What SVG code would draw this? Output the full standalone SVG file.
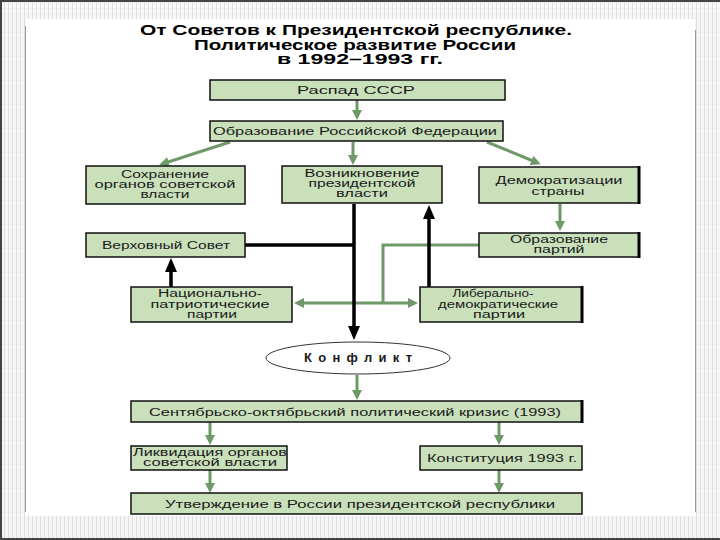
<svg xmlns="http://www.w3.org/2000/svg" width="720" height="540" viewBox="0 0 720 540">
<defs>
<pattern id="stripes" width="4" height="6" patternUnits="userSpaceOnUse">
<rect width="4" height="6" fill="#f7f7f7"/>
<rect x="0" width="1" height="6" fill="#dedede"/>
<rect x="2" y="2" width="1" height="1" fill="#e6e6e6"/>
</pattern>
<marker id="ga" viewBox="0 0 10 10" refX="7" refY="5" markerWidth="10" markerHeight="10" markerUnits="userSpaceOnUse" orient="auto-start-reverse">
<path d="M0,0 L10,5 L0,10 z" fill="#6f9968"/>
</marker>
<marker id="ba" viewBox="0 0 14 12" refX="10" refY="6" markerWidth="14" markerHeight="12" markerUnits="userSpaceOnUse" orient="auto">
<path d="M0,0 L14,6 L0,12 z" fill="#000"/>
</marker>
</defs>
<style>
.box{fill:#c9e0ba;stroke:#111;stroke-width:1.5}
.edge{stroke:#000;stroke-width:3}
.t{font-family:"Liberation Sans",Arial,sans-serif;font-size:11.5px;fill:#1a1a1a;text-anchor:middle}
.m{font-family:"Liberation Sans",Arial,sans-serif;font-size:10px;fill:#1a1a1a;text-anchor:middle}
.ttl{font-family:"Liberation Sans",Arial,sans-serif;font-size:14.5px;font-weight:bold;fill:#000;text-anchor:middle}
.g{fill:none;stroke:#6f9968;stroke-width:3}
.b{fill:none;stroke:#000;stroke-width:3.5}
</style>
<rect width="720" height="540" fill="url(#stripes)"/>
<rect x="25" y="19" width="670" height="497" fill="#fff"/>
<line x1="25.5" y1="26" x2="25.5" y2="512" stroke="#999" stroke-width="1"/>
<line x1="695.5" y1="30" x2="695.5" y2="512" stroke="#999" stroke-width="1"/>
<line x1="1" y1="0" x2="1" y2="540" stroke="#444" stroke-width="2"/>
<line x1="0" y1="1" x2="720" y2="1" stroke="#444" stroke-width="2"/>
<line x1="0" y1="539" x2="720" y2="539" stroke="#444" stroke-width="2"/>

<g id="title">
<text class="ttl" x="356" y="35" textLength="432" lengthAdjust="spacingAndGlyphs">От Советов к Президентской республике.</text>
<text class="ttl" x="355" y="49.5" textLength="322" lengthAdjust="spacingAndGlyphs">Политическое развитие России</text>
<text class="ttl" x="360" y="64" textLength="166" lengthAdjust="spacingAndGlyphs">в 1992–1993 гг.</text>
</g>

<g id="connectors">
<line class="g" x1="357" y1="100" x2="357" y2="117" marker-end="url(#ga)"/>
<line class="g" x1="230" y1="142" x2="162" y2="164" marker-end="url(#ga)"/>
<line class="g" x1="353" y1="142" x2="353" y2="162" marker-end="url(#ga)"/>
<line class="g" x1="487" y1="142" x2="538" y2="163" marker-end="url(#ga)"/>
<line class="g" x1="560" y1="204" x2="560" y2="228" marker-end="url(#ga)"/>
<polyline class="g" points="479,245 383,245 383,303"/>
<line class="g" x1="297" y1="303" x2="415" y2="303" marker-start="url(#ga)" marker-end="url(#ga)"/>
<line class="b" x1="354" y1="204" x2="354" y2="336" marker-end="url(#ba)"/>
<line class="b" x1="245" y1="245" x2="354" y2="245"/>
<line class="b" x1="429" y1="287" x2="429" y2="209" marker-end="url(#ba)"/>
<line class="b" x1="171" y1="287" x2="171" y2="262" marker-end="url(#ba)"/>
<line class="g" x1="357" y1="375" x2="357" y2="397" marker-end="url(#ga)"/>
<line class="g" x1="210" y1="422" x2="210" y2="442" marker-end="url(#ga)"/>
<line class="g" x1="499" y1="422" x2="499" y2="442" marker-end="url(#ga)"/>
<line class="g" x1="210" y1="470" x2="210" y2="490" marker-end="url(#ga)"/>
<line class="g" x1="499" y1="470" x2="499" y2="490" marker-end="url(#ga)"/>
</g>

<g id="n-raspad">
<rect class="box" x="210" y="80" width="295" height="20"/>
<text class="t" x="356" y="94" textLength="118" lengthAdjust="spacingAndGlyphs">Распад СССР</text>
</g>
<g id="n-obrazovanie-rf">
<rect class="box" x="210" y="121" width="293" height="20"/>
<text class="t" x="355" y="135" textLength="284" lengthAdjust="spacingAndGlyphs">Образование Российской Федерации</text>
</g>
<g id="n-sokhranenie">
<rect class="box" x="86" y="166" width="159" height="38"/>
<text class="m" x="165" y="178" textLength="88" lengthAdjust="spacingAndGlyphs">Сохранение</text>
<text class="m" x="165" y="188" textLength="141" lengthAdjust="spacingAndGlyphs">органов советской</text>
<text class="m" x="165" y="198" textLength="49" lengthAdjust="spacingAndGlyphs">власти</text>
</g>
<g id="n-vozniknovenie">
<rect class="box" x="282" y="166" width="160" height="37"/>
<text class="m" x="362" y="177" textLength="115" lengthAdjust="spacingAndGlyphs">Возникновение</text>
<text class="m" x="362" y="187" textLength="107" lengthAdjust="spacingAndGlyphs">президентской</text>
<text class="m" x="362" y="197" textLength="52" lengthAdjust="spacingAndGlyphs">власти</text>
</g>
<g id="n-demokratizatsiya">
<rect class="box" x="479" y="167" width="160" height="36"/>
<line class="edge" x1="639" y1="166" x2="639" y2="204"/>
<text class="m" x="559" y="184" textLength="127" lengthAdjust="spacingAndGlyphs">Демократизации</text>
<text class="m" x="558" y="195" textLength="53" lengthAdjust="spacingAndGlyphs">страны</text>
</g>
<g id="n-verkhovny">
<rect class="box" x="86" y="233" width="159" height="24"/>
<text class="t" x="166" y="249" textLength="128" lengthAdjust="spacingAndGlyphs">Верховный Совет</text>
</g>
<g id="n-partii">
<rect class="box" x="479" y="233" width="160" height="24"/>
<line class="edge" x1="639" y1="232" x2="639" y2="258"/>
<text class="m" x="559" y="243" textLength="98" lengthAdjust="spacingAndGlyphs">Образование</text>
<text class="m" x="559" y="253" textLength="51" lengthAdjust="spacingAndGlyphs">партий</text>
</g>
<g id="n-natsionalno">
<rect class="box" x="131" y="287" width="161" height="35"/>
<text class="m" x="210" y="297" textLength="104" lengthAdjust="spacingAndGlyphs">Национально-</text>
<text class="m" x="210" y="308" textLength="119" lengthAdjust="spacingAndGlyphs">патриотические</text>
<text class="m" x="212" y="318" textLength="50" lengthAdjust="spacingAndGlyphs">партии</text>
</g>
<g id="n-liberalno">
<rect class="box" x="420" y="287" width="162" height="35"/>
<line class="edge" x1="582" y1="286" x2="582" y2="323"/>
<text class="m" x="493" y="297" textLength="81" lengthAdjust="spacingAndGlyphs">Либерально-</text>
<text class="m" x="498" y="308" textLength="120" lengthAdjust="spacingAndGlyphs">демократические</text>
<text class="m" x="499" y="318" textLength="52" lengthAdjust="spacingAndGlyphs">партии</text>
</g>
<g id="n-konflikt">
<ellipse cx="358" cy="358" rx="92" ry="16" fill="#fff" stroke="#333" stroke-width="1"/>
<text class="t" x="358" y="362" textLength="108" lengthAdjust="spacing" style="font-size:13px;font-weight:bold">Конфликт</text>
</g>
<g id="n-krizis">
<rect class="box" x="131" y="401" width="451" height="21"/>
<line class="edge" x1="582" y1="400" x2="582" y2="423"/>
<text class="t" x="355" y="416" textLength="412" lengthAdjust="spacingAndGlyphs">Сентябрьско-октябрьский политический кризис (1993)</text>
</g>
<g id="n-likvidatsiya">
<rect class="box" x="131" y="446" width="156" height="24"/>
<text class="m" x="210" y="456" textLength="154" lengthAdjust="spacingAndGlyphs">Ликвидация органов</text>
<text class="m" x="210" y="466" textLength="134" lengthAdjust="spacingAndGlyphs">советской власти</text>
</g>
<g id="n-konstitutsiya">
<rect class="box" x="420" y="446" width="162" height="24"/>
<text class="t" x="502" y="462" textLength="150" lengthAdjust="spacingAndGlyphs">Конституция 1993 г.</text>
</g>
<g id="n-utverzhdenie">
<rect class="box" x="131" y="493" width="451" height="21"/>
<text class="t" x="360" y="508" textLength="390" lengthAdjust="spacingAndGlyphs">Утверждение в России президентской республики</text>
</g>
</svg>
